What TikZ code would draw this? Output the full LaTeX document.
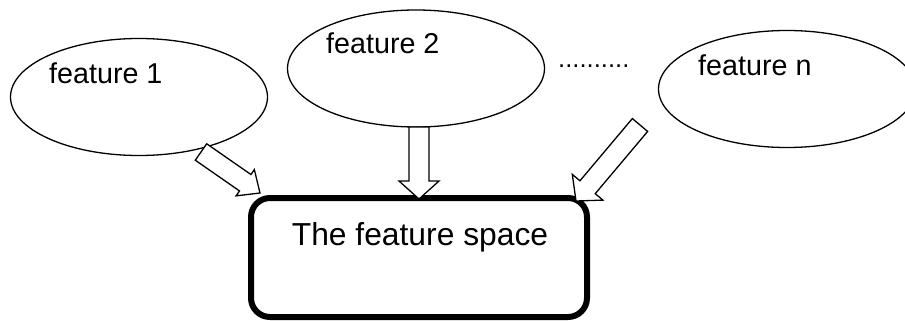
\documentclass[tikz,border=0pt]{standalone}
\usepackage{fontspec}
\setmainfont{Liberation Sans}
\usetikzlibrary{positioning,shapes.geometric,calc}

% hollow block arrow from a tail point to a tip point
\newcommand{\BlockArrow}[3][20pt]{%
  \coordinate (ArrowHead) at ($(#3)!18pt!(#2)$);
  \draw[BlockStyle] ($(#2)!10pt!90:(#3)$)
    -- ($(ArrowHead)!10pt!90:(#3)$)
    -- ($(ArrowHead)!#1!90:(#3)$)
    -- (#3)
    -- ($(ArrowHead)!#1!-90:(#3)$)
    -- ($(ArrowHead)!10pt!-90:(#3)$)
    -- ($(#2)!10pt!-90:(#3)$) -- cycle;}

\begin{document}
\begin{tikzpicture}[x=1pt,y=-1pt]
  \tikzset{FeatureStyle/.style = {draw, ellipse, line width=1.3pt,
      minimum width=257pt, minimum height=117pt, inner sep=0pt}}
  \tikzset{FeatureText/.style = {anchor=base west, inner sep=0pt,
      font=\fontsize{28.7}{34}\selectfont}}
  \tikzset{SpaceStyle/.style = {draw, line width=6pt, rounded corners=19pt,
      minimum width=336pt, minimum height=119pt, inner sep=0pt}}
  \tikzset{BlockStyle/.style = {draw, fill=white, line width=1.3pt, line join=miter}}

  \useasboundingbox (0,0) rectangle (905,321);

  \node[FeatureStyle] (F1) at (139,97) {};
  \node[FeatureStyle] (F2) at (416,68.5) {};
  \node[FeatureStyle] (Fn) at (787,89) {};

  \node[FeatureText] (T1) at (49,84) {feature 1};
  \node[FeatureText] (T2) at (326,54) {feature 2};
  \node[FeatureText] (Tn) at (698,75) {feature n};
  \node[anchor=base west, inner sep=0pt, font=\fontsize{25.6}{30}\selectfont]
    (Dots) at (558,68) {..........};

  \node[SpaceStyle] (Space) at (419,257.5) {};
  \node[anchor=base, inner sep=0pt, font=\fontsize{31.8}{38}\selectfont]
    (SpaceText) at (420,245) {The feature space};

  \coordinate (A1) at (201,152);
  \coordinate (A2) at (419,127);
  \coordinate (An) at (640,125);
  \coordinate (B1) at ($(Space.north west)+(12,-2)$);
  \coordinate (B2) at ($(Space.north)+(0,4)$);
  \coordinate (Bn) at ($(Space.north east)+(-14,6)$);

  \BlockArrow[16pt]{A1}{B1}
  \BlockArrow{A2}{B2}
  \BlockArrow{An}{Bn}
\end{tikzpicture}
\end{document}
